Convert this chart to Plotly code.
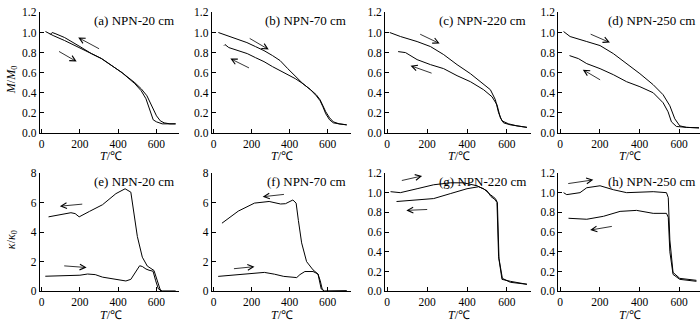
import plotly.graph_objects as go
from plotly.subplots import make_subplots

# ---------------- data ----------------
# (a) NPN-20 cm, M/M0
a_heat_T = [20, 60, 120, 200, 260, 313, 360, 420, 487, 520, 545, 565, 583, 600, 630, 660, 700]
a_heat_M = [1.01, 0.97, 0.92, 0.85, 0.79, 0.74, 0.68, 0.60, 0.49, 0.42, 0.34, 0.24, 0.13, 0.11, 0.09, 0.09, 0.09]
a_cool_T = [45, 55, 70, 120, 200, 260, 313, 360, 420, 487, 520, 550, 575, 600, 620, 640, 670, 700]
a_cool_M = [0.98, 1.00, 0.99, 0.95, 0.86, 0.79, 0.74, 0.68, 0.60, 0.50, 0.44, 0.37, 0.27, 0.17, 0.12, 0.10, 0.09, 0.09]

# (b) NPN-70 cm
b_heat_T = [25, 40, 60, 90, 130, 175, 220, 265, 310, 350, 390, 430, 470, 510, 540, 560, 575, 590, 610, 630, 660, 700]
b_heat_M = [1.00, 0.99, 0.97, 0.95, 0.93, 0.90, 0.86, 0.82, 0.77, 0.72, 0.64, 0.56, 0.49, 0.43, 0.38, 0.33, 0.27, 0.21, 0.15, 0.11, 0.09, 0.08]
b_cool_T = [55, 60, 80, 130, 177, 220, 265, 310, 350, 390, 430, 470, 510, 540, 560, 575, 590, 610, 630, 660, 700]
b_cool_M = [0.87, 0.88, 0.85, 0.82, 0.79, 0.75, 0.71, 0.66, 0.62, 0.58, 0.54, 0.49, 0.43, 0.37, 0.32, 0.26, 0.19, 0.13, 0.10, 0.09, 0.08]

# (c) NPN-220 cm
c_heat_T = [13, 67, 150, 217, 283, 350, 417, 483, 517, 542, 558, 575, 608, 650, 700]
c_heat_M = [1.00, 0.96, 0.91, 0.86, 0.78, 0.68, 0.59, 0.49, 0.43, 0.33, 0.20, 0.12, 0.09, 0.07, 0.055]
c_cool_T = [55, 92, 150, 217, 283, 350, 417, 483, 525, 550, 567, 583, 617, 650, 700]
c_cool_M = [0.81, 0.80, 0.73, 0.68, 0.64, 0.57, 0.51, 0.43, 0.36, 0.28, 0.15, 0.10, 0.08, 0.07, 0.055]

# (d) NPN-250 cm
d_heat_T = [17, 50, 134, 201, 268, 335, 402, 469, 519, 553, 578, 603, 637, 700]
d_heat_M = [1.01, 0.96, 0.91, 0.87, 0.79, 0.69, 0.59, 0.48, 0.38, 0.27, 0.14, 0.07, 0.055, 0.05]
d_cool_T = [47, 92, 134, 201, 268, 335, 402, 469, 519, 544, 561, 586, 637, 700]
d_cool_M = [0.77, 0.74, 0.69, 0.64, 0.58, 0.51, 0.46, 0.40, 0.30, 0.21, 0.11, 0.064, 0.055, 0.05]

# (e) NPN-20 cm, kappa/kappa0
e_heat_T = [19, 80, 150, 200, 240, 280, 318, 380, 440, 466, 492, 512, 526, 545, 561, 582, 596, 610, 631, 700]
e_heat_K = [1.01, 1.02, 1.05, 1.08, 1.16, 1.12, 0.95, 0.80, 0.69, 0.80, 1.30, 1.72, 1.67, 1.50, 1.42, 1.35, 0.70, 0.15, 0.0, 0.0]
e_cool_T = [36, 100, 153, 175, 196, 250, 318, 388, 436, 466, 483, 500, 526, 552, 587, 605, 622, 700]
e_cool_K = [5.03, 5.20, 5.31, 5.25, 5.03, 5.40, 5.85, 6.60, 6.93, 6.70, 5.20, 3.70, 2.30, 1.70, 1.40, 0.60, 0.0, 0.0]

# (f) NPN-70 cm
f_heat_T = [24, 130, 200, 267, 320, 369, 437, 454, 480, 523, 549, 558, 566, 583, 700]
f_heat_K = [1.00, 1.10, 1.20, 1.27, 1.15, 1.00, 0.92, 1.12, 1.33, 1.33, 1.16, 0.60, 0.15, 0.0, 0.02]
f_cool_T = [44, 130, 215, 292, 352, 378, 417, 434, 446, 463, 489, 523, 549, 561, 571, 583, 700]
f_cool_K = [4.60, 5.42, 5.96, 6.07, 5.90, 5.92, 6.17, 5.96, 4.78, 3.27, 2.00, 1.44, 1.16, 0.70, 0.15, 0.0, 0.02]

# (g) NPN-220 cm
g_heat_T = [17, 66, 150, 233, 316, 383, 450, 500, 520, 540, 550, 558, 575, 617, 700]
g_heat_K = [1.01, 1.00, 1.04, 1.08, 1.10, 1.10, 1.07, 1.02, 0.96, 0.93, 0.90, 0.35, 0.12, 0.10, 0.07]
g_cool_T = [47, 150, 233, 316, 400, 458, 483, 517, 542, 552, 560, 577, 617, 700]
g_cool_K = [0.91, 0.93, 0.94, 0.99, 1.04, 1.06, 1.04, 0.98, 0.94, 0.90, 0.33, 0.13, 0.09, 0.07]

# (h) NPN-250 cm
h_heat_T = [17, 33, 100, 134, 201, 268, 335, 469, 536, 545, 553, 569, 603, 687]
h_heat_K = [1.00, 0.98, 1.00, 1.05, 1.07, 1.03, 1.00, 1.01, 1.00, 0.95, 0.52, 0.19, 0.13, 0.11]
h_cool_T = [42, 134, 218, 302, 385, 469, 536, 545, 553, 569, 603, 687]
h_cool_K = [0.74, 0.73, 0.76, 0.81, 0.82, 0.79, 0.79, 0.75, 0.40, 0.17, 0.12, 0.10]

panel_labels = ["(a) NPN-20 cm", "(b) NPN-70 cm", "(c) NPN-220 cm", "(d) NPN-250 cm",
                "(e) NPN-20 cm", "(f) NPN-70 cm", "(g) NPN-220 cm", "(h) NPN-250 cm"]

# arrows: (tail T, tail value, head T, head value)
arrows = [
    [(83, 0.82, 183, 0.71), (308, 0.83, 191, 0.95)],
    [(182, 0.95, 290, 0.83), (194, 0.64, 88, 0.74)],
    [(158, 0.99, 263, 0.89), (230, 0.59, 117, 0.67)],
    [(146, 0.99, 251, 0.90), (209, 0.52, 114, 0.63)],
    [(110, 1.72, 235, 1.60), (220, 5.90, 95, 5.75)],
    [(99, 1.51, 215, 1.66), (378, 6.56, 258, 6.39)],
    [(66, 1.12, 175, 1.17), (208, 0.83, 96, 0.82)],
    [(33, 1.09, 167, 1.13), (268, 0.66, 151, 0.62)],
]

series = [
    (a_heat_T, a_heat_M, a_cool_T, a_cool_M),
    (b_heat_T, b_heat_M, b_cool_T, b_cool_M),
    (c_heat_T, c_heat_M, c_cool_T, c_cool_M),
    (d_heat_T, d_heat_M, d_cool_T, d_cool_M),
    (e_heat_T, e_heat_K, e_cool_T, e_cool_K),
    (f_heat_T, f_heat_K, f_cool_T, f_cool_K),
    (g_heat_T, g_heat_K, g_cool_T, g_cool_K),
    (h_heat_T, h_heat_K, h_cool_T, h_cool_K),
]

W, H = 700, 328
FONT = "Liberation Serif"
xdom_px = [(38.8, 178.7), (211, 350), (384.7, 530.7), (558, 700)]
xranges = [[-10, 720], [-10, 720], [-10, 720], [-10, 705]]
ydom_px = [(6.7, 131.7), (173.3, 296)]

fig = make_subplots(rows=2, cols=4)

for i, (ht, hv, ct, cv) in enumerate(series):
    r, c = i // 4 + 1, i % 4 + 1
    for xs, ys in ((ht, hv), (ct, cv)):
        fig.add_trace(go.Scatter(x=xs, y=ys, mode="lines",
                                 line=dict(color="black", width=1),
                                 showlegend=False, hoverinfo="skip"), row=r, col=c)

axis_common = dict(showline=True, linecolor="black", linewidth=1, ticks="inside",
                   ticklen=4, tickcolor="black", tickwidth=1, showgrid=False, zeroline=False,
                   tickfont=dict(family=FONT, size=11.5, color="black"))

annotations = []
for i in range(8):
    r, c = i // 4, i % 4
    idx = i + 1
    xa = "xaxis" if idx == 1 else f"xaxis{idx}"
    ya = "yaxis" if idx == 1 else f"yaxis{idx}"
    x0, x1 = xdom_px[c]
    y0, y1 = ydom_px[r]
    fig.layout[xa].update(domain=[x0 / W, x1 / W], range=xranges[c],
                          tickvals=[0, 200, 400, 600], **axis_common)
    if i in (4, 5):
        yr, yt, yf = [0, 8], [0, 2, 4, 6, 8], "d"
    else:
        yr, yt, yf = [0, 1.2], [0, 0.2, 0.4, 0.6, 0.8, 1.0, 1.2], ".1f"
    fig.layout[ya].update(domain=[(H - y1) / H, (H - y0) / H], range=yr,
                          tickvals=yt, tickformat=yf, **axis_common)

    # panel label
    annotations.append(dict(text=panel_labels[i], xref="paper", yref="paper",
                            x=(x1 - 3) / W, y=(H - (y0 + 8.5)) / H,
                            xanchor="right", yanchor="middle", showarrow=False,
                            font=dict(family=FONT, size=13, color="black")))
    # x axis title
    annotations.append(dict(text="<i>T</i>/℃", xref="paper", yref="paper",
                            x=((x0 + x1) / 2 + 1) / W, y=(H - (y1 + 16)) / H,
                            xanchor="center", yanchor="top", showarrow=False,
                            borderpad=0,
                            font=dict(family=FONT, size=12, color="black")))
    # arrows
    xr = "x" if idx == 1 else f"x{idx}"
    yrf = "y" if idx == 1 else f"y{idx}"
    for (tx, tv, hx, hv) in arrows[i]:
        annotations.append(dict(x=hx, y=hv, ax=tx, ay=tv, xref=xr, yref=yrf,
                                axref=xr, ayref=yrf, text="", showarrow=True,
                                arrowhead=5, arrowsize=1.4, arrowwidth=0.8,
                                arrowcolor="black", standoff=0))

# y axis titles
annotations.append(dict(text="<i>M</i>/<i>M</i><sub>0</sub>", xref="paper", yref="paper",
                        x=11 / W, y=(H - 76) / H, textangle=-90, showarrow=False,
                        xanchor="center", yanchor="middle",
                        font=dict(family=FONT, size=12, color="black")))
annotations.append(dict(text="<i>κ</i>/<i>κ</i><sub>0</sub>", xref="paper", yref="paper",
                        x=11 / W, y=(H - 242) / H, textangle=-90, showarrow=False,
                        xanchor="center", yanchor="middle",
                        font=dict(family=FONT, size=12, color="black")))

fig.update_layout(width=W, height=H, margin=dict(l=0, r=0, t=0, b=0),
                  paper_bgcolor="white", plot_bgcolor="white",
                  annotations=annotations, font=dict(family=FONT, size=12, color="black"))

fig.write_html("out.html", config={"displayModeBar": False},
               post_script="document.body.style.margin='0px';")
